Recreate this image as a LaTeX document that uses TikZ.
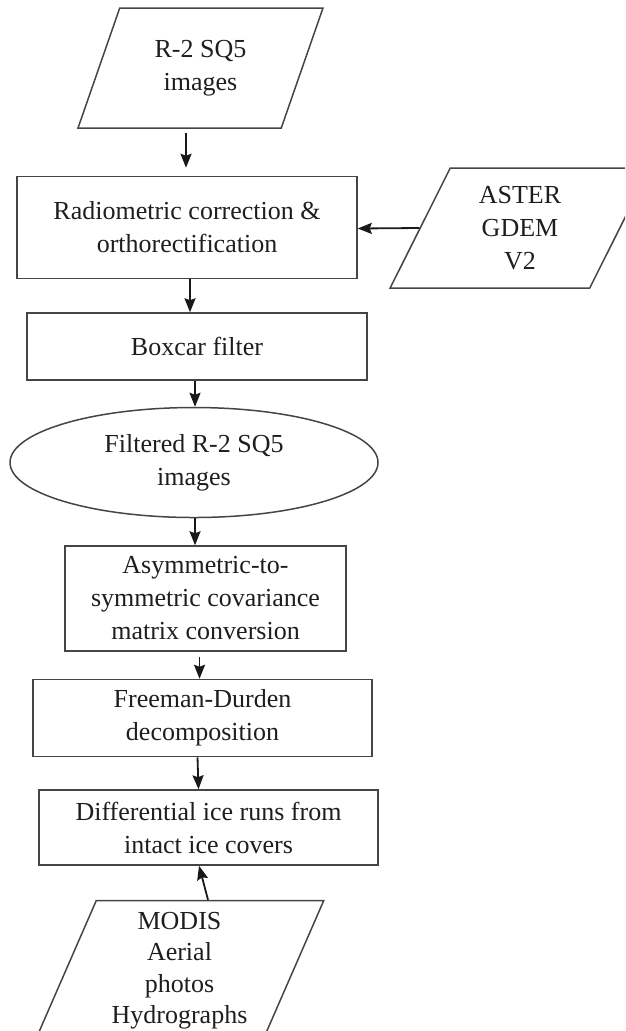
\documentclass[tikz,border=0pt]{standalone}
\usepackage{fontspec}
\setmainfont{Liberation Serif}
\usetikzlibrary{arrows.meta,positioning,shapes.geometric}
\definecolor{linec}{HTML}{454545}
\definecolor{textc}{HTML}{1E1E1E}

\begin{document}
\begin{tikzpicture}[x=1pt,y=-1pt,
      base/.style={draw=linec,line width=1.5pt,align=center,inner sep=0pt,text=textc,
        font=\fontsize{26}{33}\selectfont},
      box/.style={base,rectangle},
      oval/.style={base,ellipse},
      para/.style={base,trapezium,trapezium left angle=67,trapezium right angle=113,
        trapezium stretches=true},
      arr/.style={->,line width=1.8pt,black!90},
      >={Stealth[length=14pt,width=11pt,inset=2pt]}]
    \useasboundingbox (0,0) rectangle (625,1031);
    \clip (0,0) rectangle (625,1031);
    \node[para,minimum width=245pt,minimum height=120pt] (raw) at (200.5,68) {R-2 SQ5\\images};
    \node[box,minimum width=340pt,minimum height=102pt,below=47pt of raw,xshift=-13.5pt] (radio) {Radiometric correction \&\\orthorectification};
    \node[para,minimum width=260pt,minimum height=120pt] (aster) at (520,228) {ASTER\\GDEM\\V2};
    \node[box,minimum width=340pt,minimum height=67pt,below=33pt of radio,xshift=10pt] (boxcar) {Boxcar filter};
    \node[oval,minimum width=368pt,minimum height=110pt,below=26pt of boxcar,xshift=-3pt] (filt) {Filtered R-2 SQ5\\images};
    \node[box,minimum width=281pt,minimum height=105pt,below=27pt of filt,xshift=11.5pt] (asym) {Asymmetric-to-\\symmetric covariance\\matrix conversion};
    \node[box,minimum width=339pt,minimum height=77pt,below=27pt of asym,xshift=-3pt] (freeman) {Freeman-Durden\\decomposition};
    \node[box,minimum width=339pt,minimum height=75pt,below=32pt of freeman,xshift=6pt] (diff) {Differential ice runs from\\intact ice covers};
    \node[para,minimum width=289pt,minimum height=140pt,below=34pt of diff,xshift=-29pt,
      font=\fontsize{26}{31.5}\selectfont] (modis) {MODIS\\Aerial\\photos\\Hydrographs};
    % connectors
    \draw[arr,shorten <=4pt,shorten >=8pt] ([xshift=-14.5pt]raw.south) -- ([xshift=-1pt]radio.north);
    \draw[arr] (aster.left side) -- ([yshift=-1pt]radio.east);
    \draw[arr] ([xshift=3pt]radio.south) -- ([xshift=-7pt]boxcar.north);
    \draw[arr] ([xshift=-2pt]boxcar.south) -- ([xshift=1pt]filt.north);
    \draw[arr] ([xshift=1pt]filt.south) -- ([xshift=-10.5pt]asym.north);
    \draw[arr,shorten <=5pt] ([xshift=-6pt]asym.south) -- ([xshift=-3pt]freeman.north);
    \draw[arr] ([xshift=-5pt]freeman.south) -- ([xshift=-10pt]diff.north);
    \draw[arr] ([xshift=28.5pt]modis.north) -- ([xshift=-9.5pt]diff.south);
  \end{tikzpicture}
\end{document}
